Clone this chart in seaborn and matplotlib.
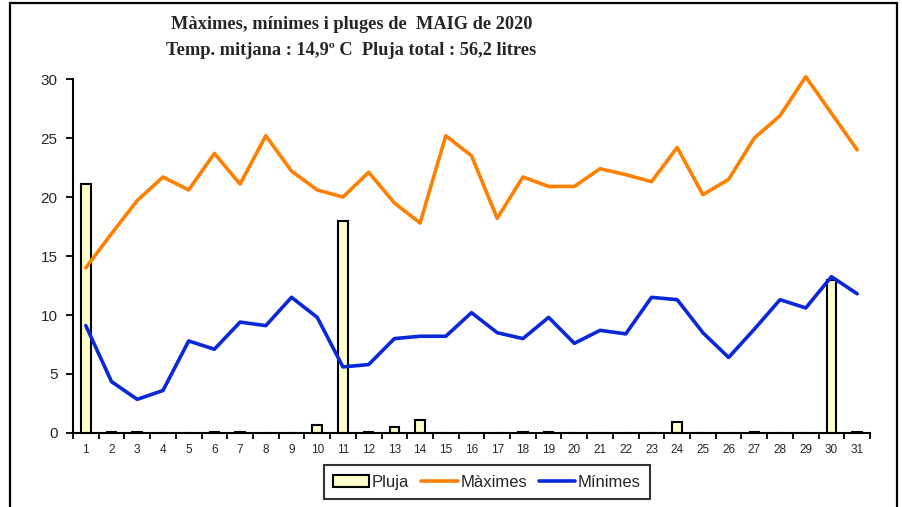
import numpy as np
import pandas as pd
import matplotlib
matplotlib.use("Agg")
import matplotlib.pyplot as plt
from matplotlib.patches import Rectangle, Patch
from matplotlib.lines import Line2D
import seaborn as sns

# data (May 2020)
dies = [str(d) for d in range(1, 32)]
maximes = [14.0, 16.9, 19.7, 21.7, 20.6, 23.7, 21.1, 25.2, 22.2, 20.6,
           20.0, 22.1, 19.5, 17.8, 25.2, 23.5, 18.2, 21.7, 20.9, 20.9,
           22.4, 21.9, 21.3, 24.2, 20.2, 21.5, 25.0, 26.9, 30.2, 27.1, 24.0]
minimes = [9.1, 4.35, 2.85, 3.6, 7.8, 7.1, 9.4, 9.1, 11.5, 9.8,
           5.6, 5.8, 8.0, 8.2, 8.2, 10.2, 8.5, 8.0, 9.8, 7.6,
           8.7, 8.4, 11.5, 11.3, 8.5, 6.4, 8.8, 11.3, 10.6, 13.25, 11.8]
pluja = [21.1, 0.1, 0.1, 0, 0, 0.1, 0.1, 0, 0, 0.7,
         18.0, 0.1, 0.5, 1.1, 0, 0, 0, 0.1, 0.1, 0,
         0, 0, 0, 0.9, 0, 0, 0.1, 0, 0, 13.0, 0.1]

titol1 = "Màximes, mínimes i pluges de  MAIG de 2020"
titol2 = "Temp. mitjana : 14,9º C  Pluja total : 56,2 litres"

df = pd.DataFrame({"dia": dies, "max": maximes, "min": minimes, "pluja": pluja})
df["pos"] = np.arange(len(df))

sns.set_style("white")
plt.rcParams["font.family"] = ["Liberation Sans", "DejaVu Sans"]

c_max = "#FF8000"
c_min = "#0A28D8"
c_bar = "#FFFFCC"

fig = plt.figure(figsize=(9.03, 5.07), dpi=100)
ax = fig.add_axes([0.0808, 0.146, 0.8827, 0.698])

sns.barplot(data=df, x="dia", y="pluja", color=c_bar, width=0.37,
            edgecolor="black", linewidth=1.5, saturation=1, ax=ax, zorder=2)
sns.lineplot(data=df, x="pos", y="max", color=c_max, lw=2.6, ax=ax,
             zorder=3, clip_on=False)
sns.lineplot(data=df, x="pos", y="min", color=c_min, lw=2.6, ax=ax,
             zorder=4, clip_on=False)

ax.set_xlim(-0.5, 30.5)
ax.set_ylim(0, 30)
ax.set_yticks(range(0, 31, 5))
ax.set_xticks(df["pos"])
ax.set_xticklabels(dies)
ax.set_xticks(np.arange(-0.5, 31, 1), minor=True)
ax.tick_params(axis="x", which="major", length=0, labelsize=8.5, pad=8)
ax.tick_params(axis="x", which="minor", length=4, width=1.3, color="black",
               direction="out", bottom=True)
ax.tick_params(axis="y", length=5, width=1.3, color="black", direction="out",
               left=True, labelsize=11, pad=6)
ax.set_xlabel("")
ax.set_ylabel("")
for s in ["top", "right"]:
    ax.spines[s].set_visible(False)
for s in ["left", "bottom"]:
    ax.spines[s].set_color("black")
    ax.spines[s].set_linewidth(1.5)
ax.grid(False)

# titles
fig.text(0.389, 0.951, titol1, ha="center", va="center", fontsize=13.2,
         fontweight="bold", family=["Liberation Serif", "DejaVu Serif"])
fig.text(0.389, 0.901, titol2, ha="center", va="center", fontsize=13.2,
         fontweight="bold", family=["Liberation Serif", "DejaVu Serif"])

# legend
handles = [Patch(facecolor=c_bar, edgecolor="black", linewidth=1.5),
           Line2D([], [], color=c_max, lw=2.6),
           Line2D([], [], color=c_min, lw=2.6)]
leg = fig.legend(handles, ["Pluja", "Màximes", "Mínimes"], ncol=3,
                 loc="center", bbox_to_anchor=(0.539, 0.049), fontsize=12,
                 frameon=True, fancybox=False, handlelength=2.2,
                 handletextpad=0.15, columnspacing=0.7, borderpad=0.55,
                 borderaxespad=0)
leg.get_frame().set_edgecolor("black")
leg.get_frame().set_linewidth(1.5)

# outer frame
fig.patches.append(Rectangle((10 / 903, -0.05), 887 / 903, 1.05 - 3 / 507,
                             transform=fig.transFigure, fill=False,
                             edgecolor="black", linewidth=1.6))

fig.savefig("out.png", dpi=100)
